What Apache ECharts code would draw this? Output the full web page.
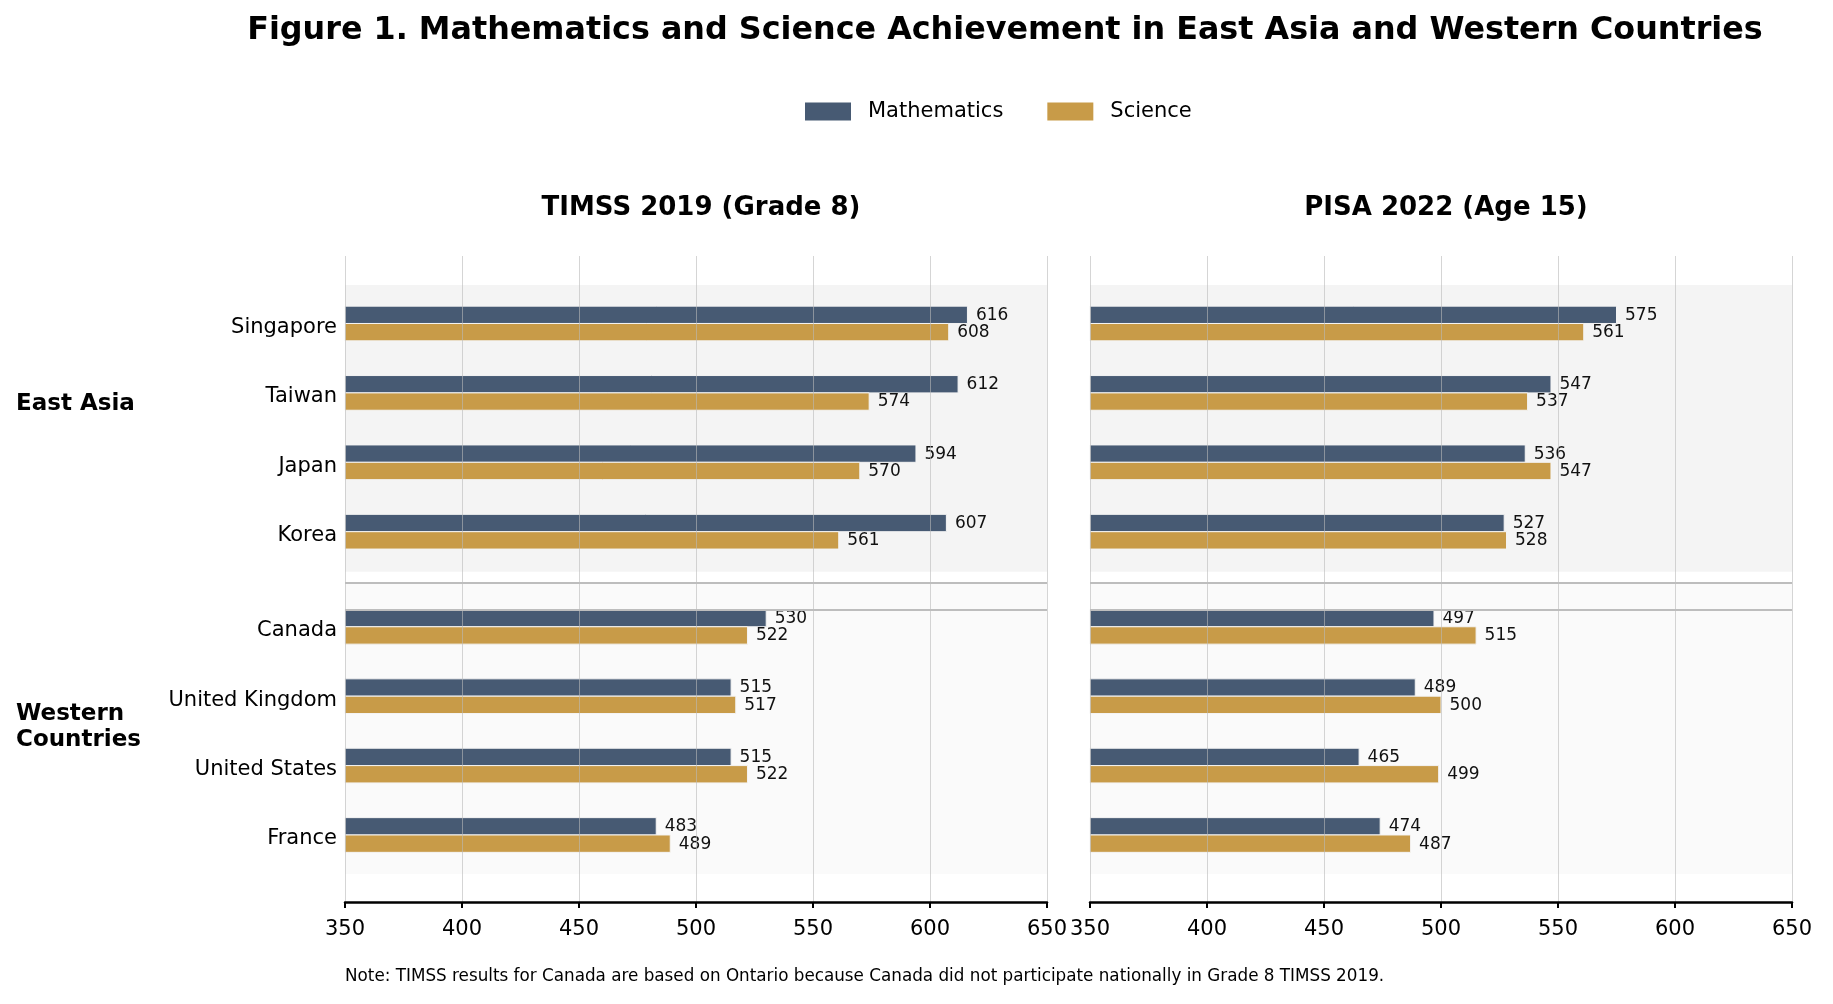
<!DOCTYPE html>
<html>
<head>
<meta charset="utf-8">
<script src="https://cdn.jsdelivr.net/npm/echarts@6/dist/echarts.min.js"></script>
<style>
html,body{margin:0;padding:0;background:#fff;}
#chart{width:1833px;height:1004px;}
</style>
</head>
<body>
<div id="chart"></div>
<script>
// ---- data ----
const eastAsia = ['Singapore', 'Taiwan', 'Japan', 'Korea'];
const western = ['Canada', 'United Kingdom', 'United States', 'France'];
const timssMath = [616, 612, 594, 607, 530, 515, 515, 483];
const timssScience = [608, 574, 570, 561, 522, 517, 522, 489];
const pisaMath = [575, 547, 536, 527, 497, 489, 465, 474];
const pisaScience = [561, 537, 547, 528, 515, 500, 499, 487];
const xTicks = [350, 400, 450, 500, 550, 600, 650];
const seriesNames = ['Mathematics', 'Science'];
const panelTitles = ['TIMSS 2019 (Grade 8)', 'PISA 2022 (Age 15)'];
const groupLabels = ['East Asia', 'Western\nCountries'];

// ---- layout ----
const FONT = 'DejaVu Sans';
const GROUP_STEP = 1.37; // spacing between last East Asia row and first Western row
const categories = eastAsia.concat(western);
const positions = categories.map((c, i) => i < eastAsia.length ? i : i - 1 + GROUP_STEP);
const MATH_COLOR = '#475a73';
const SCI_COLOR = '#c89b48';
const BAR_H = 0.25;

function buildData(vals) {
  return vals.map((v, i) => [v, positions[i]]);
}

function barRender(offsetStart, color) {
  return function (params, api) {
    const v = api.value(0), p = api.value(1);
    const a = api.coord([xTicks[0], p + offsetStart]);
    const b = api.coord([v, p + offsetStart + BAR_H]);
    const top = Math.min(a[1], b[1]);
    const h = Math.abs(b[1] - a[1]);
    return {
      type: 'group',
      children: [
        {
          type: 'rect',
          shape: { x: a[0], y: top, width: b[0] - a[0], height: h },
          style: { fill: color, stroke: '#f4f4f4', lineWidth: 1 }
        },
        {
          type: 'text',
          x: b[0] + 8.5,
          y: top + h / 2 + 0.5,
          style: {
            text: String(v), fill: '#111', fontSize: 17, fontFamily: FONT,
            align: 'left', verticalAlign: 'middle'
          }
        }
      ]
    };
  };
}

const grids = [
  { left: 345, top: 256, width: 702, height: 646 },
  { left: 1090, top: 256, width: 702, height: 646 }
];

const xAxes = grids.map((g, i) => ({
  type: 'value', gridIndex: i, min: 350, max: 650, interval: 50, z: 3,
  axisLine: { show: true, onZero: false, lineStyle: { color: '#000', width: 2.5 } },
  axisTick: { show: true, length: 6, lineStyle: { color: '#000', width: 2 } },
  axisLabel: { fontSize: 21, color: '#000', fontFamily: FONT, margin: 17 },
  splitLine: { show: true, lineStyle: { color: 'rgba(185,185,185,0.6)', width: 1 } }
}));

const yAxes = grids.map((g, i) => ({
  type: 'value', gridIndex: i, inverse: true, min: -0.9726, max: 8.3357,
  axisLine: { show: false }, axisTick: { show: false }, splitLine: { show: false },
  axisLabel: {
    show: i === 0, fontSize: 21, color: '#000', fontFamily: FONT, margin: 8,
    verticalAlign: 'top', lineHeight: 8,
    customValues: positions,
    formatter: function (v) {
      let best = 0, d = Infinity;
      positions.forEach((p, k) => { if (Math.abs(p - v) < d) { d = Math.abs(p - v); best = k; } });
      return categories[best];
    }
  }
}));

const panels = [[timssMath, timssScience], [pisaMath, pisaScience]];
const series = [];
panels.forEach((pv, i) => {
  // background bands
  series.push({
    type: 'line', xAxisIndex: i, yAxisIndex: i, data: [], z: 1, silent: true,
    markArea: {
      silent: true,
      data: [
        [{ yAxis: -0.555, itemStyle: { color: '#f4f4f4' } }, { yAxis: 3.576 }],
        [{ yAxis: 3.739, itemStyle: { color: '#fafafa' } }, { yAxis: 7.932 }]
      ]
    }
  });
  series.push({
    name: seriesNames[0], type: 'custom', xAxisIndex: i, yAxisIndex: i, z: 2,
    itemStyle: { color: MATH_COLOR },
    encode: { x: 0, y: 1 },
    renderItem: barRender(-BAR_H, MATH_COLOR),
    data: buildData(pv[0])
  });
  series.push({
    name: seriesNames[1], type: 'custom', xAxisIndex: i, yAxisIndex: i, z: 2,
    itemStyle: { color: SCI_COLOR },
    encode: { x: 0, y: 1 },
    renderItem: barRender(0, SCI_COLOR),
    data: buildData(pv[1])
  });
  // separator lines
  series.push({
    type: 'line', xAxisIndex: i, yAxisIndex: i, data: [], z: 5, silent: true,
    markLine: {
      silent: true, symbol: 'none', animation: false,
      label: { show: false },
      lineStyle: { color: '#bdbdbd', width: 2, type: 'solid' },
      data: [{ yAxis: 3.732 }, { yAxis: 4.118 }]
    }
  });
});

const chart = echarts.init(document.getElementById('chart'), null, { renderer: 'canvas' });
chart.setOption({
  animation: false,
  backgroundColor: '#fff',
  textStyle: { fontFamily: FONT },
  title: [
    { text: 'Figure 1. Mathematics and Science Achievement in East Asia and Western Countries',
      left: 1000, textAlign: 'center', top: 10,
      textStyle: { fontSize: 31.8, fontWeight: 'bold', color: '#000', fontFamily: FONT } },
    { text: panelTitles[0], left: 696, textAlign: 'center', top: 190,
      textStyle: { fontSize: 26, fontWeight: 'bold', color: '#000', fontFamily: FONT } },
    { text: panelTitles[1], left: 1441, textAlign: 'center', top: 190,
      textStyle: { fontSize: 26, fontWeight: 'bold', color: '#000', fontFamily: FONT } }
  ],
  legend: {
    data: seriesNames, left: 805, top: 101, padding: 0,
    itemWidth: 46, itemHeight: 18, itemGap: 44, icon: 'rect',
    textStyle: { fontSize: 21, color: '#000', fontFamily: FONT, padding: [0, 0, 0, 12] }
  },
  grid: grids,
  xAxis: xAxes,
  yAxis: yAxes,
  series: series,
  graphic: [
    { type: 'text', left: 16, top: 393,
      style: { text: groupLabels[0], fontSize: 23, fontWeight: 'bold', fill: '#000', fontFamily: FONT } },
    { type: 'text', left: 16, top: 701,
      style: { text: groupLabels[1], fontSize: 23, fontWeight: 'bold', fill: '#000', fontFamily: FONT, lineHeight: 26 } },
    { type: 'text', left: 345, top: 968,
      style: { text: 'Note: TIMSS results for Canada are based on Ontario because Canada did not participate nationally in Grade 8 TIMSS 2019.',
        fontSize: 16.8, fill: '#000', fontFamily: FONT } }
  ]
});
</script>
</body>
</html>
